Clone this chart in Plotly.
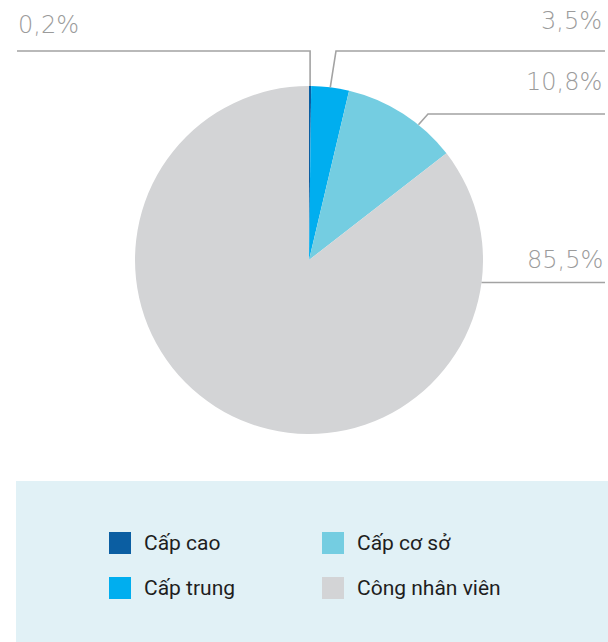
import math
import plotly.graph_objects as go

# ---- data ----
labels = ["Cấp cao", "Cấp trung", "Cấp cơ sở", "Công nhân viên"]
values = [0.2, 3.5, 10.8, 85.5]
pct_text = ["0,2%", "3,5%", "10,8%", "85,5%"]
colors = ["#0B5EA2", "#00AEEF", "#74CDE1", "#D3D4D6"]

# ---- layout constants (pixels) ----
W, H = 608, 642
CX, CY, R = 309, 260, 174
LINE_COLOR = "#A3A3A3"
TEXT_COLOR = "#9B9B9B"


def px(x):
    return x / W


def py(y):
    return 1 - y / H


fig = go.Figure(
    go.Pie(
        labels=labels,
        values=values,
        sort=False,
        direction="clockwise",
        rotation=0,
        marker=dict(colors=colors, line=dict(width=0)),
        textinfo="none",
        hoverinfo="label+percent",
        domain=dict(x=[px(CX - R), px(CX + R)], y=[py(CY + R), py(CY - R)]),
        showlegend=False,
    )
)

# label callout layout: fraction inside slice for anchor, elbow, end x, text pos
callouts = [
    dict(frac=0.5, elbow=(None, 51), end=17, tx=16, ty=25, xanchor="left"),
    dict(frac=0.5, elbow=(336, 51), end=605, tx=604, ty=21, xanchor="right"),
    dict(frac=0.66, elbow=(428, 114), end=605, tx=604, ty=82, xanchor="right"),
    dict(frac=0.147, elbow=None, end=605, tx=605, ty=260, xanchor="right"),
]

total = sum(values)
shapes = []
annotations = []
cum = 0.0
for i, v in enumerate(values):
    c = callouts[i]
    ang = (cum + c["frac"] * v) / total * 2 * math.pi
    cum += v
    ax = CX + R * math.sin(ang)
    ay = CY - R * math.cos(ang)
    if c["elbow"] is None:
        ex, ey = ax, ay
    else:
        ex = ax if c["elbow"][0] is None else c["elbow"][0]
        ey = c["elbow"][1]
    path = f"M {px(ax)} {py(ay)} L {px(ex)} {py(ey)} L {px(c['end'])} {py(ey)}"
    shapes.append(dict(type="path", xref="paper", yref="paper", path=path,
                       line=dict(color=LINE_COLOR, width=1.6)))
    annotations.append(dict(
        x=px(c["tx"]), y=py(c["ty"]), xref="paper", yref="paper",
        text=pct_text[i], showarrow=False, xanchor=c["xanchor"], yanchor="middle",
        font=dict(family="DejaVu Sans", size=24, color=TEXT_COLOR, weight=300),
    ))

# custom legend box
shapes.append(dict(type="rect", xref="paper", yref="paper", layer="below",
                   x0=px(16), x1=px(608), y0=py(642), y1=py(481),
                   fillcolor="#E1F1F6", line=dict(width=0)))
col_x = [109, 322]
row_y = [543, 588]
SQ = 22
for i, lab in enumerate(labels):
    cx0 = col_x[i // 2]
    cy0 = row_y[i % 2]
    shapes.append(dict(type="rect", xref="paper", yref="paper",
                       x0=px(cx0), x1=px(cx0 + SQ), y0=py(cy0 + SQ / 2), y1=py(cy0 - SQ / 2),
                       fillcolor=colors[i], line=dict(width=0)))
    annotations.append(dict(
        x=px(cx0 + 33), y=py(cy0), xref="paper", yref="paper",
        text=lab, showarrow=False, xanchor="left", yanchor="middle",
        font=dict(family="Roboto", size=21, color="#1E1E1E"),
    ))

fig.update_layout(
    width=W, height=H,
    margin=dict(l=0, r=0, t=0, b=0),
    paper_bgcolor="white", plot_bgcolor="white",
    shapes=shapes, annotations=annotations,
    showlegend=False,
)

fig.write_html("out.html", config={"displayModeBar": False},
               post_script="document.body.style.margin='0';document.body.style.overflow='hidden';")
